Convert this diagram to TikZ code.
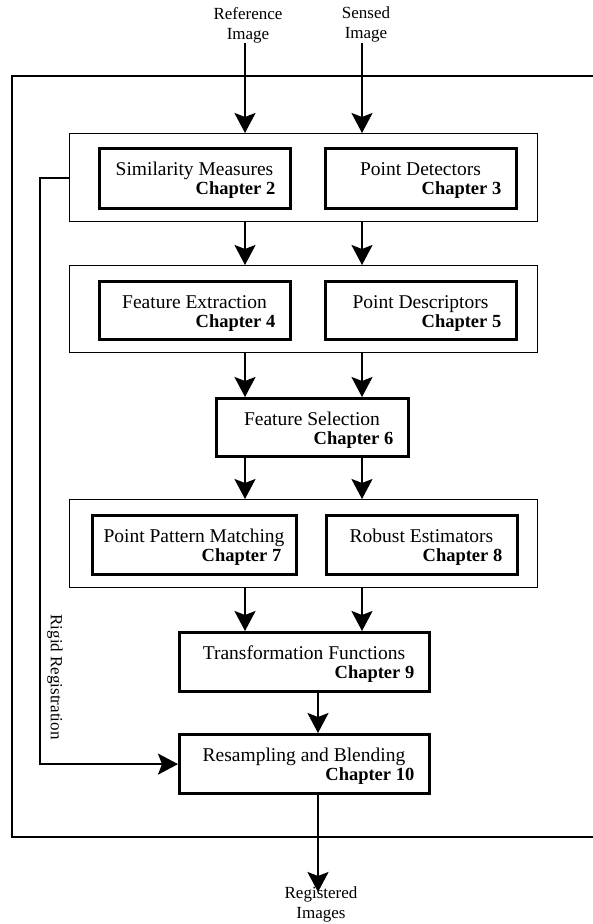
\documentclass[tikz,border=0pt]{standalone}
\usepackage{fontspec}
\setmainfont{Liberation Serif}
\usetikzlibrary{arrows.meta}
\newcommand\chapbox[7]{%
  \node[inbox, anchor=north west, minimum width={#4-#2}, minimum height={#5-#3}] (#1) at (#2,#3) {};
  \node[boxtxt, anchor=base] (#1-t) at ({(#2+#4)/2+1},{#3+28.5}) {#6};
  \node[boxtxt, anchor=base east, font=\fontsize{18.5}{21}\selectfont\bfseries] (#1-c) at ({#4-13.5},{#3+47.5}) {#7};
}
\begin{document}
\begin{tikzpicture}[x=1pt,y=-1pt,
  grp/.style={draw, line width=1.3pt, inner sep=0pt},
  inbox/.style={draw, line width=3.2pt, inner sep=0pt},
  boxtxt/.style={inner sep=0pt, font=\fontsize{19.5}{22}\selectfont},
  lbl/.style={inner sep=0pt, align=center, font=\fontsize{17}{20}\selectfont},
  arr/.style={line width=2.5pt, -{Stealth[length=20pt,width=21pt,inset=4pt]}},
  conn/.style={line width=2.2pt, -{Stealth[length=20pt,width=21pt,inset=4pt]}}]
\useasboundingbox (0,0) rectangle (593,924);
\clip (0,0) rectangle (593,924);
\coordinate (cl) at (245,0);
\coordinate (cr) at (362,0);
\coordinate (cm) at (318,0);
\coordinate (cx) at (40,0);
% outer frame
\node[draw, line width=1.6pt, inner sep=0pt, anchor=north west, minimum width=640, minimum height=761] (outer) at (11,75) {};
% top labels
\node[lbl, anchor=north] (ref) at (248,7) {Reference\\Image};
\node[lbl, anchor=north] (sen) at (366,7) {Sensed\\Image};
% group 1
\node[grp, anchor=north west, minimum width=468, minimum height=88] (g1) at (69,133) {};
\chapbox{sm}{98}{147}{289}{207}{Similarity Measures}{Chapter 2}
\chapbox{pd}{324}{147}{515}{207}{Point Detectors}{Chapter 3}
% group 2
\node[grp, anchor=north west, minimum width=468, minimum height=87] (g2) at (69,265) {};
\chapbox{fe}{98}{280}{289}{338}{Feature Extraction}{Chapter 4}
\chapbox{pdes}{324}{280}{515}{338}{Point Descriptors}{Chapter 5}
% feature selection
\chapbox{fs}{215}{397}{407}{455}{Feature Selection}{Chapter 6}
% group 3
\node[grp, anchor=north west, minimum width=468, minimum height=88] (g3) at (69,499) {};
\chapbox{ppm}{91}{514}{295}{573}{Point Pattern Matching}{Chapter 7}
\chapbox{re}{325}{514}{516}{573}{Robust Estimators}{Chapter 8}
% transformation and resampling
\chapbox{tf}{178}{631}{428}{690}{Transformation Functions}{Chapter 9}
\chapbox{rs}{178}{733}{428}{792}{Resampling and Blending}{Chapter 10}
% bottom label
\node[lbl, anchor=north, inner sep=0pt] (reg) at (321,886) {Registered\\Images};
% arrows
\draw[arr] (ref.south -| cl) -- (g1.north -| cl);
\draw[arr] (sen.south -| cr) -- (g1.north -| cr);
\draw[arr] (g1.south -| cl) -- (g2.north -| cl);
\draw[arr] (g1.south -| cr) -- (g2.north -| cr);
\draw[arr] (g2.south -| cl) -- (fs.north -| cl);
\draw[arr] (g2.south -| cr) -- (fs.north -| cr);
\draw[arr] (fs.south -| cl) -- (g3.north -| cl);
\draw[arr] (fs.south -| cr) -- (g3.north -| cr);
\draw[arr] (g3.south -| cl) -- (tf.north -| cl);
\draw[arr] (g3.south -| cr) -- (tf.north -| cr);
\draw[arr] (tf.south -| cm) -- (rs.north -| cm);
\draw[arr] (rs.south -| cm) -- ([yshift=-6pt]reg.north -| cm);
% rigid registration path
\draw[conn] (g1.west) -- (g1.west -| cx) |- (rs.west);
\node[lbl, rotate=-90] (rigid) at (55,677) {Rigid Registration};
\end{tikzpicture}
\end{document}
